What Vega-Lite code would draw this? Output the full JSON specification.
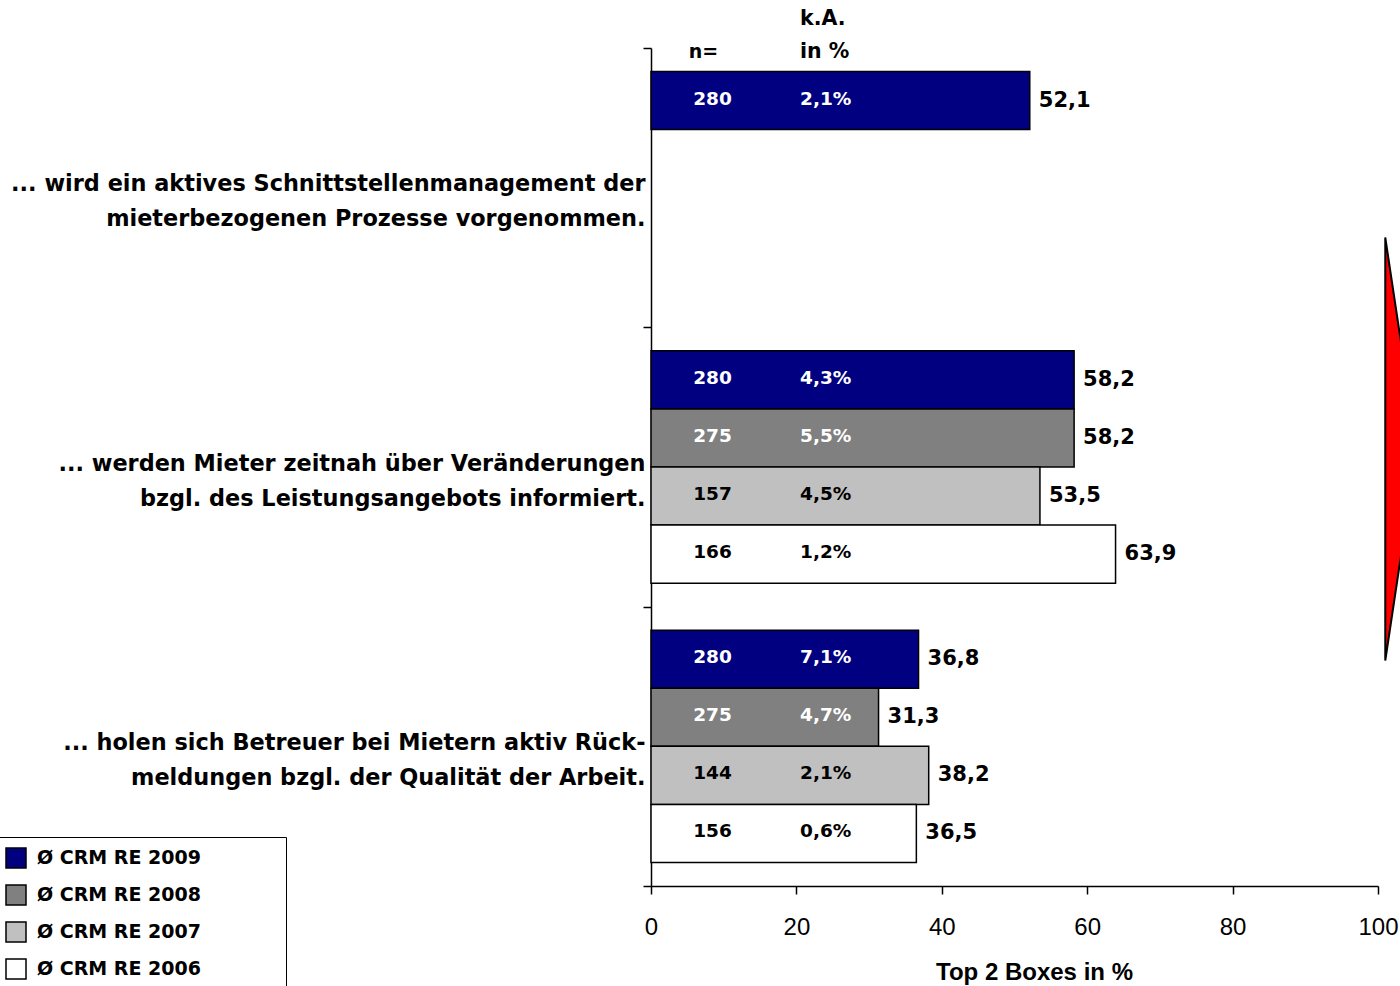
{
  "$schema": "https://vega.github.io/schema/vega-lite/v6.json",
  "width": 727,
  "height": 838,
  "autosize": {"type": "none"},
  "padding": {"left": 651, "top": 48, "right": 22, "bottom": 100},
  "config": {
    "view": {"stroke": null},
    "font": "Liberation Sans",
    "locale": {"number": {"decimal": ",", "thousands": ".", "grouping": [3], "currency": ["", " €"]}}
  },
  "data": {
    "values": [
      {"item": "... wird ein aktives Schnittstellenmanagement der|mieterbezogenen Prozesse vorgenommen.", "year": "2009", "value": 52.1, "n": 280, "ka": "2,1%"},
      {"item": "... werden Mieter zeitnah über Veränderungen|bzgl. des Leistungsangebots informiert.", "year": "2009", "value": 58.2, "n": 280, "ka": "4,3%"},
      {"item": "... werden Mieter zeitnah über Veränderungen|bzgl. des Leistungsangebots informiert.", "year": "2008", "value": 58.2, "n": 275, "ka": "5,5%"},
      {"item": "... werden Mieter zeitnah über Veränderungen|bzgl. des Leistungsangebots informiert.", "year": "2007", "value": 53.5, "n": 157, "ka": "4,5%"},
      {"item": "... werden Mieter zeitnah über Veränderungen|bzgl. des Leistungsangebots informiert.", "year": "2006", "value": 63.9, "n": 166, "ka": "1,2%"},
      {"item": "... holen sich Betreuer bei Mietern aktiv Rück-|meldungen bzgl. der Qualität der Arbeit.", "year": "2009", "value": 36.8, "n": 280, "ka": "7,1%"},
      {"item": "... holen sich Betreuer bei Mietern aktiv Rück-|meldungen bzgl. der Qualität der Arbeit.", "year": "2008", "value": 31.3, "n": 275, "ka": "4,7%"},
      {"item": "... holen sich Betreuer bei Mietern aktiv Rück-|meldungen bzgl. der Qualität der Arbeit.", "year": "2007", "value": 38.2, "n": 144, "ka": "2,1%"},
      {"item": "... holen sich Betreuer bei Mietern aktiv Rück-|meldungen bzgl. der Qualität der Arbeit.", "year": "2006", "value": 36.5, "n": 156, "ka": "0,6%"}
    ]
  },
  "layer": [
    {
      "mark": {"type": "bar", "stroke": "black", "strokeWidth": 1.5},
      "encoding": {
        "y": {
          "field": "item", "type": "nominal", "sort": null,
          "scale": {"paddingInner": 0, "paddingOuter": 0},
          "axis": {
            "title": null,
            "domainColor": "black", "domainWidth": 1.5,
            "tickColor": "black", "tickWidth": 1.5, "tickSize": 8, "tickBand": "extent",
            "labelExpr": "split(datum.label, '|')",
            "labelFont": "DejaVu Sans", "labelFontSize": 22.4, "labelFontWeight": "bold",
            "labelColor": "black", "labelLimit": 0, "labelLineHeight": 35,
            "labelPadding": -2, "labelOffset": -4
          }
        },
        "yOffset": {
          "field": "year", "type": "nominal",
          "sort": ["2009", "2008", "2007", "2006"],
          "scale": {"domain": ["2009", "2008", "2007", "2006"], "paddingInner": 0, "paddingOuter": 0.405}
        },
        "x": {
          "field": "value", "type": "quantitative",
          "scale": {"domain": [0, 100], "nice": false},
          "axis": {
            "title": "Top 2 Boxes in %",
            "values": [0, 20, 40, 60, 80, 100], "format": "d",
            "grid": false,
            "domainColor": "black", "domainWidth": 1.5,
            "tickColor": "black", "tickWidth": 1.5, "tickSize": 8,
            "labelFont": "Liberation Sans", "labelFontSize": 24, "labelColor": "black",
            "labelPadding": 21, "labelFlush": false,
            "titleFont": "Liberation Sans", "titleFontSize": 24, "titleFontWeight": "bold",
            "titleColor": "black", "titlePadding": 21, "titleX": 383
          }
        },
        "color": {
          "field": "year", "type": "nominal",
          "scale": {"domain": ["2009", "2008", "2007", "2006"], "range": ["#000080", "#808080", "#C0C0C0", "#FFFFFF"]},
          "legend": {
            "title": null, "orient": "none", "legendX": -656, "legendY": 789,
            "strokeColor": "black", "padding": 10,
            "symbolType": "square", "symbolSize": 400,
            "symbolStrokeColor": "black", "symbolStrokeWidth": 1.5,
            "labelExpr": "'Ø CRM RE ' + datum.label + '\u2800\u2800\u2800\u2800\u2800'",
            "labelFont": "DejaVu Sans", "labelFontSize": 19, "labelFontWeight": "bold", "labelColor": "black",
            "labelOffset": 10, "rowPadding": 11, "labelLimit": 400
          }
        }
      }
    },
    {
      "mark": {"type": "text", "align": "left", "baseline": "middle", "dx": 9, "font": "DejaVu Sans", "fontSize": 21, "fontWeight": "bold", "color": "black"},
      "encoding": {
        "y": {"field": "item", "type": "nominal", "sort": null},
        "yOffset": {"field": "year", "type": "nominal", "sort": ["2009", "2008", "2007", "2006"]},
        "x": {"field": "value", "type": "quantitative"},
        "text": {"field": "value", "type": "quantitative", "format": ".1f"}
      }
    },
    {
      "mark": {"type": "text", "align": "left", "baseline": "middle", "dy": -2, "font": "DejaVu Sans", "fontSize": 18.5, "fontWeight": "bold"},
      "encoding": {
        "y": {"field": "item", "type": "nominal", "sort": null},
        "yOffset": {"field": "year", "type": "nominal", "sort": ["2009", "2008", "2007", "2006"]},
        "x": {"datum": 5.8},
        "text": {"field": "n", "type": "nominal"},
        "color": {"condition": {"test": "datum.year == '2009' || datum.year == '2008'", "value": "white"}, "value": "black"}
      }
    },
    {
      "mark": {"type": "text", "align": "left", "baseline": "middle", "dy": -2, "font": "DejaVu Sans", "fontSize": 18.5, "fontWeight": "bold"},
      "encoding": {
        "y": {"field": "item", "type": "nominal", "sort": null},
        "yOffset": {"field": "year", "type": "nominal", "sort": ["2009", "2008", "2007", "2006"]},
        "x": {"datum": 20.5},
        "text": {"field": "ka", "type": "nominal"},
        "color": {"condition": {"test": "datum.year == '2009' || datum.year == '2008'", "value": "white"}, "value": "black"}
      }
    },
    {
      "data": {"values": [{"head": "n="}]},
      "mark": {"type": "text", "align": "left", "baseline": "middle", "dy": -135.5, "font": "DejaVu Sans", "fontSize": 19, "fontWeight": "bold", "color": "black"},
      "encoding": {
        "y": {"datum": "... wird ein aktives Schnittstellenmanagement der|mieterbezogenen Prozesse vorgenommen."},
        "x": {"datum": 5.2},
        "text": {"field": "head", "type": "nominal"}
      }
    },
    {
      "data": {"values": [{"head": "k.A.|in %"}]},
      "mark": {"type": "text", "align": "left", "baseline": "middle", "dy": -169, "font": "DejaVu Sans", "fontSize": 20.5, "fontWeight": "bold", "color": "black", "lineBreak": "|", "lineHeight": 33},
      "encoding": {
        "y": {"datum": "... wird ein aktives Schnittstellenmanagement der|mieterbezogenen Prozesse vorgenommen."},
        "x": {"datum": 20.5},
        "text": {"field": "head", "type": "nominal"}
      }
    },
    {
      "data": {"values": [{"shape": "arrow"}]},
      "mark": {"type": "point", "filled": true, "fill": "red", "stroke": "black", "strokeWidth": 2, "opacity": 1,
               "shape": "M0,-1.085 L0.15,-0.085 L0,0.915 Z", "size": 178929},
      "encoding": {
        "y": {"datum": "... werden Mieter zeitnah über Veränderungen|bzgl. des Leistungsangebots informiert."},
        "x": {"datum": 101}
      }
    }
  ]
}
